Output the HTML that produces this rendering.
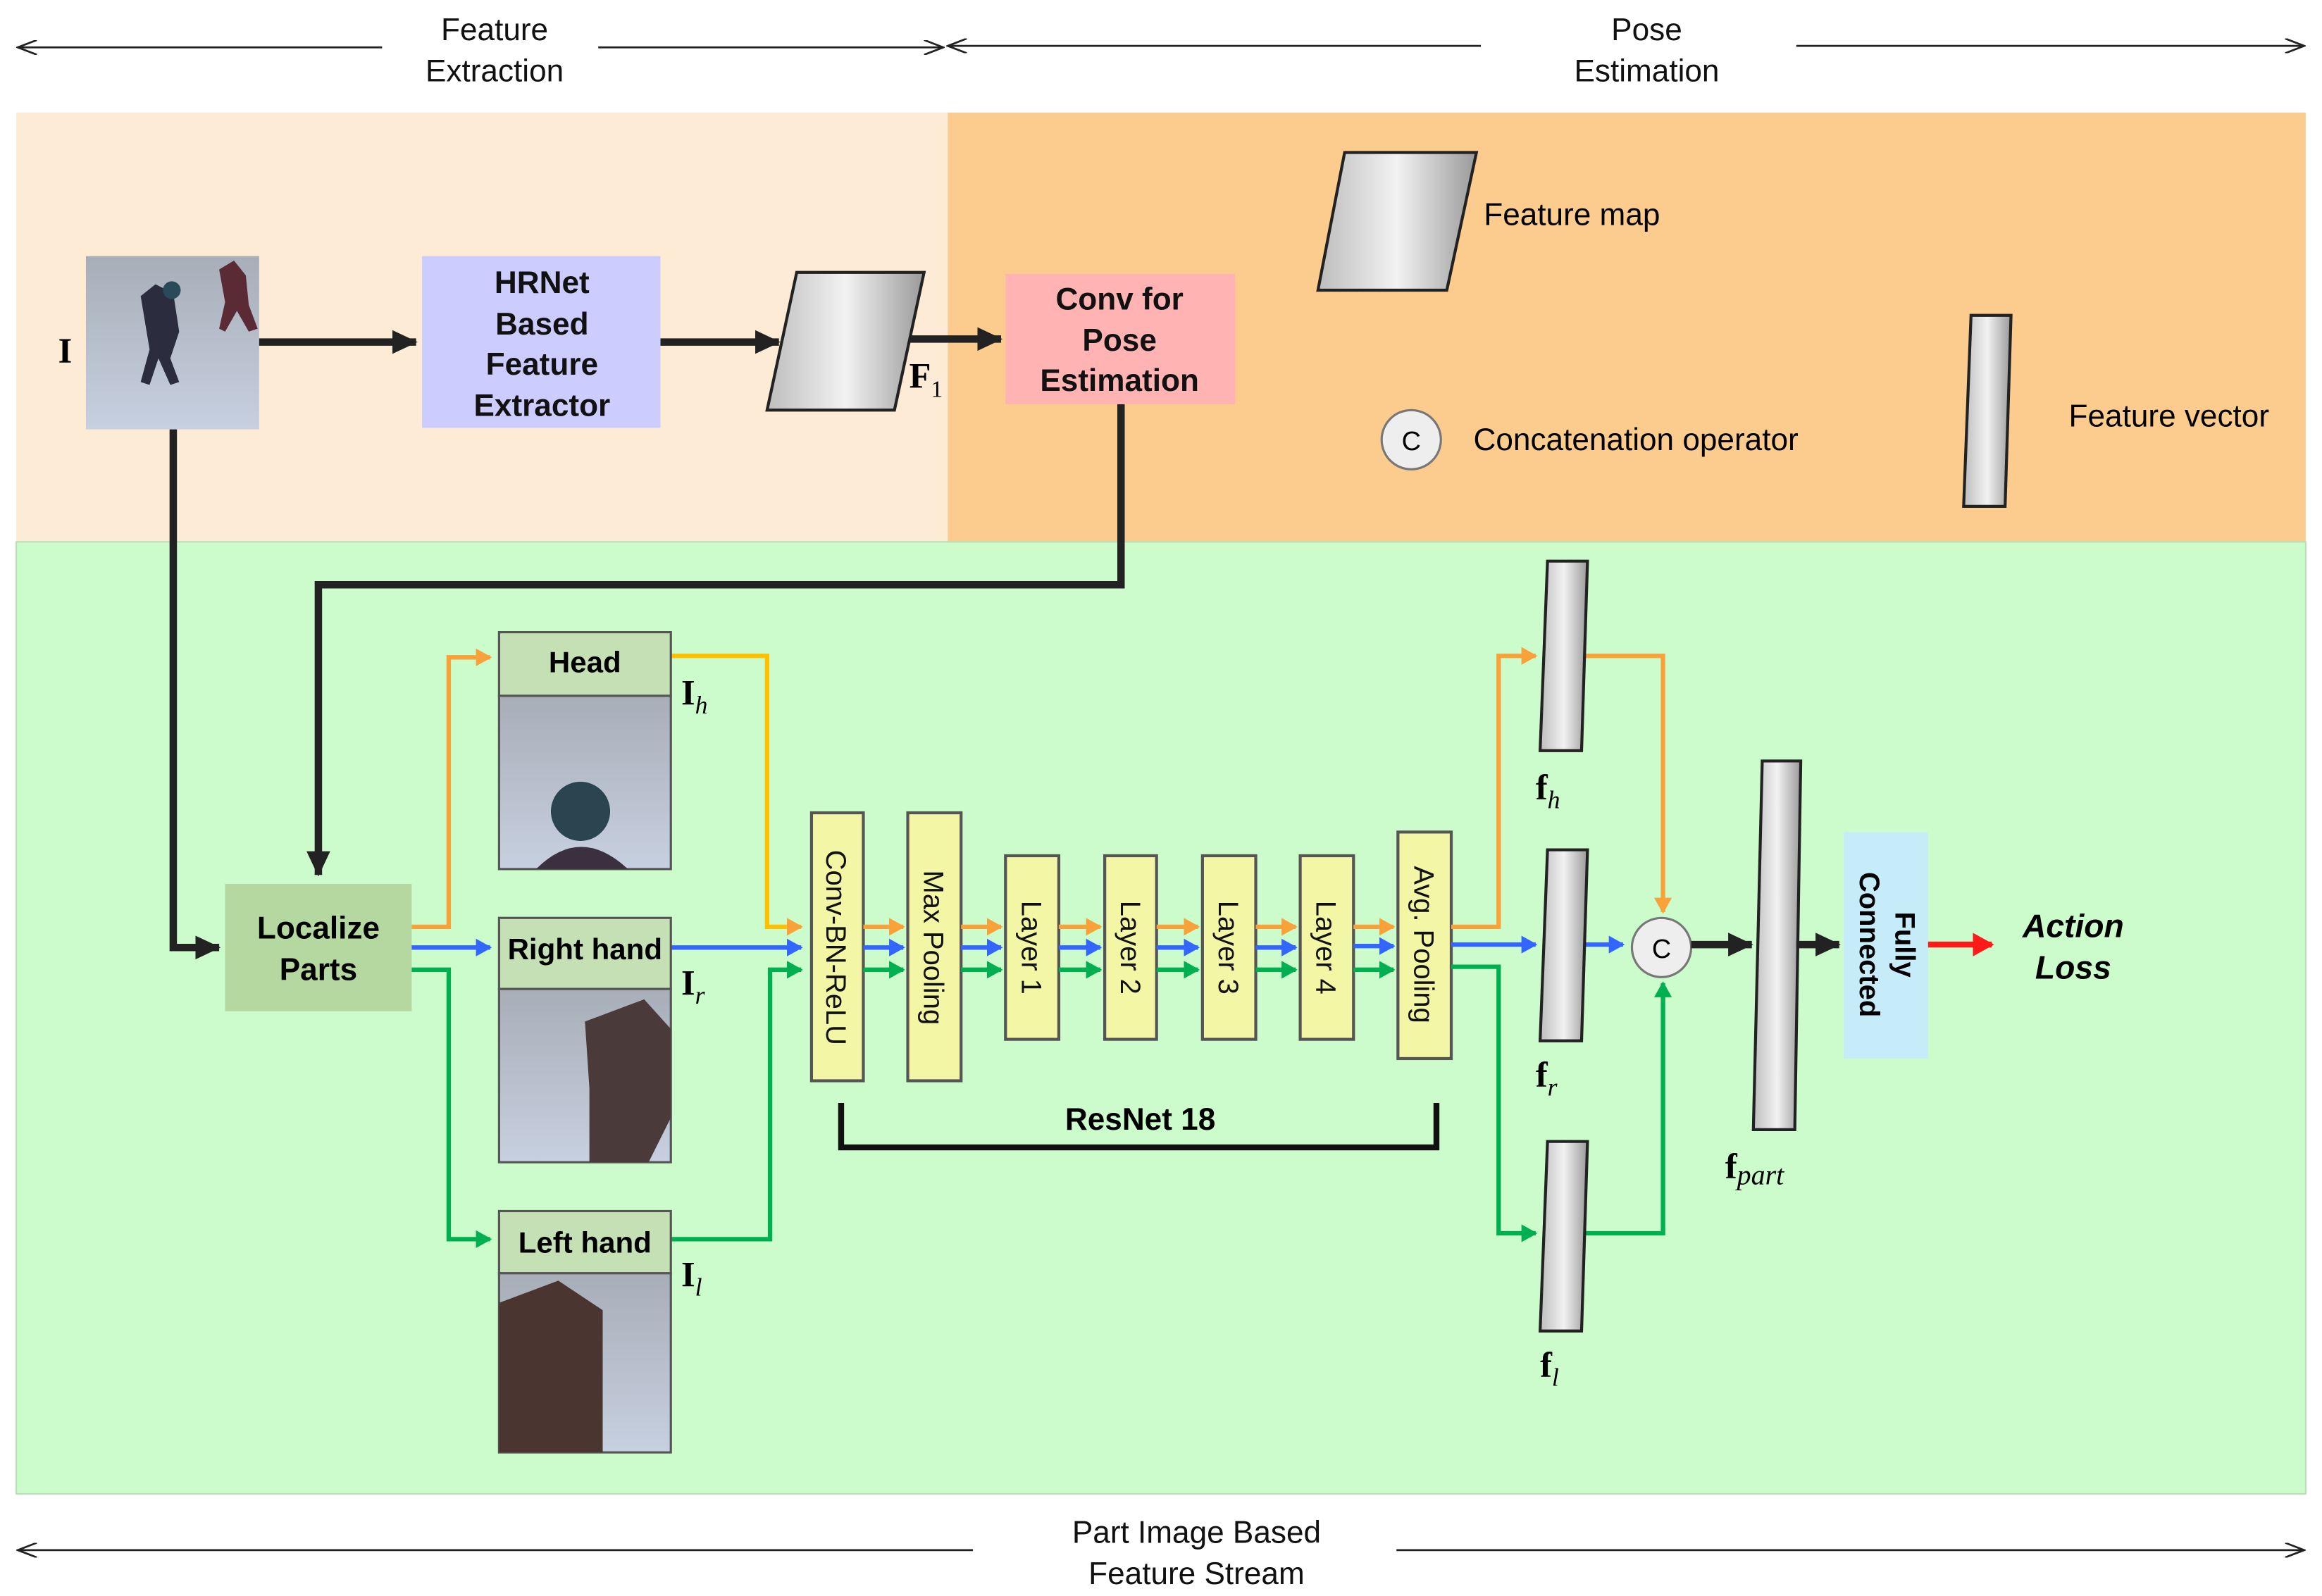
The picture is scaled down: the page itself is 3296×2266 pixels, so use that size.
<!DOCTYPE html>
<html><head><meta charset="utf-8"><style>
html,body{margin:0;padding:0;background:#fff;}
svg{display:block;}
text{font-family:"Liberation Sans",sans-serif;}
text.s,.s text{font-family:"Liberation Serif",serif;}
</style></head><body>
<svg width="3296" height="2266" viewBox="0 0 1568 1078" xmlns="http://www.w3.org/2000/svg">
<defs>
<marker id="ak" markerWidth="4" markerHeight="4" refX="3.2" refY="2" orient="auto" markerUnits="strokeWidth"><path d="M0,0.4 L3.4,2 L0,3.6z" fill="#222"/></marker>
<marker id="ao" markerWidth="4" markerHeight="4" refX="3.2" refY="2" orient="auto" markerUnits="strokeWidth"><path d="M0,0 L3.6,2 L0,4z" fill="#f9a23a"/></marker>
<marker id="ab" markerWidth="4" markerHeight="4" refX="3.2" refY="2" orient="auto" markerUnits="strokeWidth"><path d="M0,0 L3.6,2 L0,4z" fill="#3366ff"/></marker>
<marker id="ag" markerWidth="4" markerHeight="4" refX="3.2" refY="2" orient="auto" markerUnits="strokeWidth"><path d="M0,0 L3.6,2 L0,4z" fill="#00b050"/></marker>
<marker id="ar" markerWidth="4" markerHeight="4" refX="3.2" refY="2" orient="auto" markerUnits="strokeWidth"><path d="M0,0 L3.6,2 L0,4z" fill="#ff1a1a"/></marker>
<marker id="at" markerWidth="14" markerHeight="10" refX="13" refY="5" orient="auto" markerUnits="userSpaceOnUse"><path d="M0,0 L13,5 L0,10" fill="none" stroke="#222" stroke-width="1.3"/></marker>
<linearGradient id="gr" x1="0" y1="0" x2="1" y2="0"><stop offset="0" stop-color="#bdbdbd"/><stop offset="0.5" stop-color="#f2f2f2"/><stop offset="1" stop-color="#9a9a9a"/></linearGradient>
<linearGradient id="snow" x1="0" y1="0" x2="0" y2="1"><stop offset="0" stop-color="#a7aeb8"/><stop offset="1" stop-color="#c7d0e0"/></linearGradient>
</defs>
<rect x="11" y="76" width="629" height="290" fill="#fdebd6"/>
<rect x="640" y="76" width="917" height="290" fill="#fccb8e"/>
<rect x="11" y="366" width="1546" height="643" fill="#ccfccc" stroke="#b8e0b8" stroke-width="1"/>
<g stroke="#222" stroke-width="1.3" fill="none">
<line x1="258" y1="32" x2="12" y2="32" marker-end="url(#at)"/>
<line x1="404" y1="32" x2="637" y2="32" marker-end="url(#at)"/>
<line x1="1000" y1="31" x2="640" y2="31" marker-end="url(#at)"/>
<line x1="1213" y1="31" x2="1556" y2="31" marker-end="url(#at)"/>
<line x1="657" y1="1047" x2="12" y2="1047" marker-end="url(#at)"/>
<line x1="943" y1="1047" x2="1556" y2="1047" marker-end="url(#at)"/>
</g>
<g font-size="21" fill="#111" text-anchor="middle">
<text x="334" y="27">Feature</text><text x="334" y="55">Extraction</text>
<text x="1112" y="27">Pose</text><text x="1112" y="55">Estimation</text>
<text x="808" y="1042">Part Image Based</text><text x="808" y="1070">Feature Stream</text>
</g>
<rect x="58" y="173" width="117" height="117" fill="url(#snow)"/>
<path d="M95,200 l10,-8 l12,6 l4,26 l-6,18 l6,16 l-6,2 l-8,-18 l-6,18 l-6,-2 l6,-22 z" fill="#2b2d3e"/>
<circle cx="116" cy="196" r="6" fill="#2a4a5a"/>
<path d="M148,182 l10,-6 l8,10 l2,20 l6,16 l-6,2 l-8,-14 l-8,14 l-4,-2 l4,-18 z" fill="#5a2a35"/>
<text x="44" y="245" class="s" font-size="24" font-weight="bold" text-anchor="middle">I</text>
<g stroke="#222" stroke-width="5" fill="none">
<line x1="175" y1="231" x2="281" y2="231" marker-end="url(#ak)"/>
<line x1="446" y1="231" x2="526" y2="231" marker-end="url(#ak)"/>
<line x1="614" y1="229" x2="676" y2="229" marker-end="url(#ak)"/>
<polyline points="757,273 757,395 215,395 215,591" marker-end="url(#ak)"/>
<polyline points="117,290 117,640 148,640" marker-end="url(#ak)"/>
</g>
<rect x="285" y="173" width="161" height="116" fill="#ccccff"/>
<g font-size="21" font-weight="bold" text-anchor="middle" fill="#111">
<text x="366" y="198">HRNet</text><text x="366" y="226">Based</text><text x="366" y="253">Feature</text><text x="366" y="281">Extractor</text>
</g>
<polygon points="538,184 624,184 604,277 518,277" fill="url(#gr)" stroke="#222" stroke-width="2"/>
<text x="614" y="262" class="s" font-size="24" font-weight="bold">F<tspan font-size="16" dy="6" font-weight="normal">1</tspan></text>
<rect x="679" y="185" width="155" height="88" fill="#ffb3b3"/>
<g font-size="21" font-weight="bold" text-anchor="middle" fill="#111">
<text x="756" y="209">Conv for</text><text x="756" y="237">Pose</text><text x="756" y="264">Estimation</text>
</g>
<polygon points="908,103 997,103 977,196 890,196" fill="url(#gr)" stroke="#222" stroke-width="2"/>
<text x="1002" y="152" font-size="21">Feature map</text>
<circle cx="953" cy="297" r="20" fill="#eee" stroke="#777" stroke-width="1.5"/>
<text x="953" y="304" font-size="18" text-anchor="middle">C</text>
<text x="995" y="304" font-size="21">Concatenation operator</text>
<polygon points="1331,213 1358,213 1354,342 1326,342" fill="url(#gr)" stroke="#222" stroke-width="2"/>
<text x="1397" y="288" font-size="21">Feature vector</text>
<rect x="152" y="597" width="126" height="86" fill="#b5d7a0"/>
<text x="215" y="634" font-size="21" font-weight="bold" text-anchor="middle">Localize</text>
<text x="215" y="662" font-size="21" font-weight="bold" text-anchor="middle">Parts</text>
<g stroke-width="3" fill="none">
<polyline points="278,626 303,626 303,444 331,444" stroke="#f9a23a" marker-end="url(#ao)"/>
<line x1="278" y1="640" x2="331" y2="640" stroke="#3366ff" marker-end="url(#ab)"/>
<polyline points="278,655 303,655 303,837 331,837" stroke="#00b050" marker-end="url(#ag)"/>
<polyline points="453,443 518,443 518,626 541,626" stroke="#ffc000" marker-end="url(#ao)"/>
<line x1="453" y1="640" x2="541" y2="640" stroke="#3366ff" marker-end="url(#ab)"/>
<polyline points="453,837 520,837 520,655 541,655" stroke="#00b050" marker-end="url(#ag)"/>
</g>
<g stroke="#555" stroke-width="1.5">
<rect x="337" y="427" width="116" height="43" fill="#c5e0b4"/>
<rect x="337" y="470" width="116" height="117" fill="url(#snow)"/>
<rect x="337" y="620" width="116" height="48" fill="#c5e0b4"/>
<rect x="337" y="668" width="116" height="117" fill="url(#snow)"/>
<rect x="337" y="818" width="116" height="42" fill="#c5e0b4"/>
<rect x="337" y="860" width="116" height="121" fill="url(#snow)"/>
</g>
<circle cx="392" cy="548" r="20" fill="#2a4450"/>
<path d="M362,587 q30,-30 62,0 z" fill="#3a3040"/>
<path d="M395,690 l40,-15 l18,20 l0,60 l-15,30 l-40,0 l0,-50 z" fill="#4a3a3a"/>
<path d="M337,880 l40,-15 l30,20 l0,96 l-70,0 z" fill="#4a3530"/>
<g font-size="20" font-weight="bold" text-anchor="middle">
<text x="395" y="454">Head</text><text x="395" y="648">Right hand</text><text x="395" y="846">Left hand</text>
</g>
<g class="s" font-size="24" font-weight="bold">
<text x="460" y="476">I<tspan font-size="17" font-style="italic" font-weight="normal" dy="6">h</tspan></text>
<text x="460" y="672">I<tspan font-size="17" font-style="italic" font-weight="normal" dy="6">r</tspan></text>
<text x="460" y="869">I<tspan font-size="17" font-style="italic" font-weight="normal" dy="6">l</tspan></text>
</g>
<g fill="#f3f6a4" stroke="#555" stroke-width="2">
<rect x="548" y="549" width="35" height="181"/>
<rect x="613" y="549" width="36" height="181"/>
<rect x="679" y="578" width="36" height="124"/>
<rect x="746" y="578" width="35" height="124"/>
<rect x="812" y="578" width="36" height="124"/>
<rect x="878" y="578" width="36" height="124"/>
<rect x="944" y="562" width="36" height="153"/>
</g>
<g font-size="19" fill="#111" text-anchor="middle">
<text transform="translate(558,640) rotate(90)">Conv-BN-ReLU</text>
<text transform="translate(624,640) rotate(90)">Max Pooling</text>
<text transform="translate(690,640) rotate(90)">Layer 1</text>
<text transform="translate(757,640) rotate(90)">Layer 2</text>
<text transform="translate(823,640) rotate(90)">Layer 3</text>
<text transform="translate(889,640) rotate(90)">Layer 4</text>
<text transform="translate(955,638) rotate(90)">Avg. Pooling</text>
</g>
<g stroke-width="3" fill="none">
<g stroke="#f9a23a" marker-end="url(#ao)">
<line x1="583" y1="626" x2="610" y2="626"/><line x1="649" y1="626" x2="676" y2="626"/><line x1="715" y1="626" x2="743" y2="626"/><line x1="781" y1="626" x2="809" y2="626"/><line x1="848" y1="626" x2="875" y2="626"/><line x1="914" y1="626" x2="941" y2="626"/>
</g>
<g stroke="#3366ff" marker-end="url(#ab)">
<line x1="583" y1="640" x2="610" y2="640"/><line x1="649" y1="640" x2="676" y2="640"/><line x1="715" y1="640" x2="743" y2="640"/><line x1="781" y1="640" x2="809" y2="640"/><line x1="848" y1="640" x2="875" y2="640"/><line x1="914" y1="639" x2="941" y2="639"/>
</g>
<g stroke="#00b050" marker-end="url(#ag)">
<line x1="583" y1="655" x2="610" y2="655"/><line x1="649" y1="655" x2="676" y2="655"/><line x1="715" y1="655" x2="743" y2="655"/><line x1="781" y1="655" x2="809" y2="655"/><line x1="848" y1="655" x2="875" y2="655"/><line x1="914" y1="655" x2="941" y2="655"/>
</g>
<polyline points="980,626 1012,626 1012,443 1037,443" stroke="#f9a23a" marker-end="url(#ao)"/>
<line x1="980" y1="638" x2="1037" y2="638" stroke="#3366ff" marker-end="url(#ab)"/>
<polyline points="980,653 1012,653 1012,833 1037,833" stroke="#00b050" marker-end="url(#ag)"/>
<polyline points="1070,443 1123,443 1123,616" stroke="#f9a23a" marker-end="url(#ao)"/>
<line x1="1070" y1="638" x2="1096" y2="638" stroke="#3366ff" marker-end="url(#ab)"/>
<polyline points="1070,833 1123,833 1123,664" stroke="#00b050" marker-end="url(#ag)"/>
</g>
<polyline points="568,745 568,775 970,775 970,745" fill="none" stroke="#111" stroke-width="4"/>
<text x="770" y="763" font-size="21" font-weight="bold" text-anchor="middle">ResNet 18</text>
<g fill="url(#gr)" stroke="#222" stroke-width="2">
<polygon points="1045,379 1072,379 1068,507 1040,507"/>
<polygon points="1045,574 1072,574 1068,703 1040,703"/>
<polygon points="1045,771 1072,771 1068,899 1040,899"/>
<polygon points="1190,514 1216,514 1212,763 1184,763"/>
</g>
<g class="s" font-size="24" font-weight="bold">
<text x="1037" y="540">f<tspan font-size="17" font-style="italic" font-weight="normal" dy="6">h</tspan></text>
<text x="1037" y="734">f<tspan font-size="17" font-style="italic" font-weight="normal" dy="6">r</tspan></text>
<text x="1040" y="930">f<tspan font-size="17" font-style="italic" font-weight="normal" dy="6">l</tspan></text>
<text x="1165" y="796">f<tspan font-size="19" font-style="italic" font-weight="normal" dy="4">part</tspan></text>
</g>
<circle cx="1122" cy="640" r="20" fill="#eee" stroke="#777" stroke-width="1.5"/>
<text x="1122" y="647" font-size="18" text-anchor="middle">C</text>
<g stroke="#222" stroke-width="5" fill="none">
<line x1="1142" y1="638" x2="1183" y2="638" marker-end="url(#ak)"/>
<line x1="1213" y1="638" x2="1242" y2="638" marker-end="url(#ak)"/>
</g>
<rect x="1245" y="562" width="57" height="153" fill="#c6ecfa"/>
<g font-size="19" font-weight="bold" text-anchor="middle">
<text transform="translate(1280,638) rotate(90)">Fully</text>
<text transform="translate(1256,638) rotate(90)">Connected</text>
</g>
<line x1="1302" y1="638" x2="1345" y2="638" stroke="#ff1a1a" stroke-width="4" marker-end="url(#ar)"/>
<g font-size="22" font-weight="bold" font-style="italic" text-anchor="middle">
<text x="1400" y="633">Action</text><text x="1400" y="661">Loss</text>
</g>
</svg>
</body></html>
